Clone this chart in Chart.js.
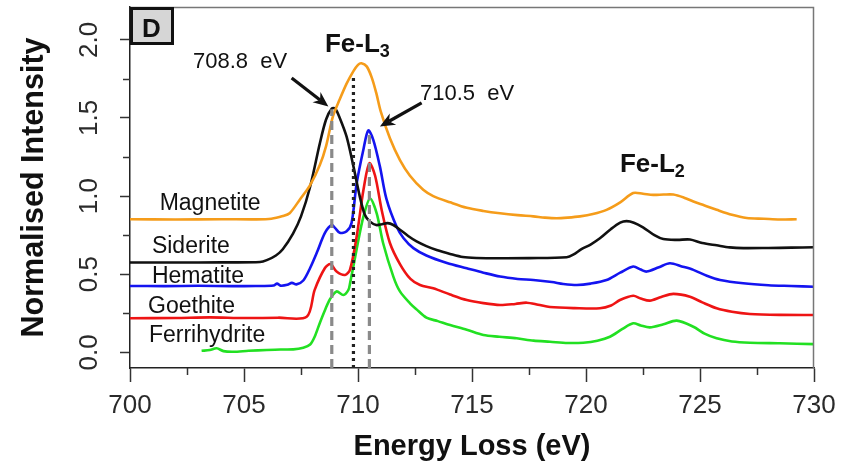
<!DOCTYPE html>
<html>
<head>
<meta charset="utf-8">
<script src="https://cdn.jsdelivr.net/npm/chart.js@4.4.1/dist/chart.umd.min.js"></script>
<style>
html,body{margin:0;padding:0;background:#fff;}
#wrap{width:841px;height:467px;position:relative;}
</style>
</head>
<body>
<div id="wrap"><canvas id="c" width="841" height="467"></canvas></div>
<script>
// ---------- DATA ----------
const seriesNames = ["Magnetite", "Siderite", "Hematite", "Goethite", "Ferrihydrite"];

const magnetiteX = [700,702,704,705.5,706.2,706.7,707.0,707.46,707.9,708.33,708.6,708.9,709.2,709.5,709.8,710.0,710.15,710.38,710.6,710.8,711.0,711.4,711.84,712.28,712.86,713.3,714.04,714.77,715.5,716.23,717.0,717.69,718.2,718.71,719.2,719.74,720.3,720.9,721.5,722.07,722.5,722.95,723.4,723.83,724.3,724.71,725.2,725.73,726.4,727.05,727.8,728.5,729.24];
const magnetiteY = [0.852,0.850,0.852,0.851,0.855,0.872,0.89,0.98,1.07,1.20,1.32,1.51,1.62,1.72,1.80,1.84,1.85,1.83,1.76,1.66,1.54,1.37,1.23,1.13,1.04,1.0,0.96,0.925,0.905,0.89,0.878,0.87,0.862,0.858,0.862,0.87,0.885,0.912,0.96,1.02,1.015,1.008,1.01,1.01,0.99,0.965,0.94,0.912,0.88,0.86,0.855,0.85,0.852];

const sideriteX = [700,702,704,705.7,706.0,706.4,706.7,707.15,707.5,707.9,708.33,708.6,708.85,709.0,709.2,709.5,709.8,710.09,710.3,710.5,710.8,711.05,711.3,711.55,711.84,712.2,712.57,713.0,713.45,714.04,714.6,715.2,716.23,717.5,719.15,719.44,719.8,720.2,720.61,721.1,721.5,721.78,722.1,722.5,723.0,723.39,724.0,724.56,725.1,725.73,726.3,726.9,728.0,729.0,730];
const sideriteY = [0.575,0.575,0.576,0.578,0.59,0.62,0.66,0.76,0.87,1.06,1.34,1.49,1.56,1.56,1.50,1.38,1.19,0.99,0.88,0.84,0.815,0.82,0.827,0.815,0.785,0.745,0.71,0.68,0.655,0.63,0.61,0.604,0.602,0.603,0.609,0.625,0.66,0.69,0.73,0.79,0.83,0.84,0.83,0.80,0.75,0.725,0.72,0.722,0.70,0.685,0.672,0.667,0.668,0.67,0.673];

const hematiteX = [700,701.5,703,704.5,705.5,706.3,706.45,706.6,706.9,707.1,707.3,707.6,707.9,708.2,708.55,708.85,709.0,709.2,709.5,709.72,709.94,710.24,710.45,710.67,710.96,711.25,711.69,712.0,712.43,713.0,713.9,714.77,715.5,716.23,717.0,717.69,718.5,719.0,719.6,720.2,720.9,721.5,722.07,722.4,722.66,723.2,723.68,724.2,724.71,725.3,725.88,726.9,728,729,730];
const hematiteY = [0.425,0.424,0.426,0.424,0.425,0.428,0.44,0.427,0.432,0.445,0.435,0.46,0.54,0.64,0.765,0.815,0.795,0.765,0.775,0.83,1.08,1.30,1.42,1.36,1.19,0.98,0.805,0.73,0.667,0.62,0.572,0.538,0.51,0.485,0.47,0.463,0.45,0.438,0.431,0.44,0.463,0.51,0.549,0.53,0.517,0.545,0.57,0.55,0.528,0.49,0.463,0.442,0.43,0.425,0.42];

const goethiteX = [700,702,703.5,705,706.5,707.75,708.1,708.55,708.8,709.06,709.43,709.65,709.94,710.24,710.5,710.75,711.04,711.4,711.84,712.3,712.72,713.3,714.04,714.77,715.5,716.23,716.9,717.4,717.9,718.42,719.5,720.61,721.1,721.49,722.07,722.4,722.8,723.3,723.83,724.56,725.1,725.73,726.4,727.19,728.5,730];
const goethiteY = [0.218,0.22,0.224,0.22,0.222,0.228,0.40,0.54,0.565,0.517,0.495,0.53,0.74,1.04,1.21,1.13,0.91,0.70,0.565,0.47,0.431,0.41,0.37,0.335,0.315,0.303,0.31,0.318,0.305,0.29,0.283,0.282,0.30,0.335,0.362,0.345,0.331,0.355,0.374,0.356,0.32,0.282,0.26,0.246,0.24,0.239];

const ferrihydriteX = [703.14,703.5,703.8,704.1,704.53,705.2,706.0,706.6,707.16,707.6,707.9,708.1,708.33,708.55,708.77,709.06,709.36,709.58,709.65,709.94,710.24,710.53,710.82,711.1,711.55,711.84,712.28,712.57,713.0,713.5,714.04,714.77,715.5,716.2,716.96,717.7,718.42,719.2,719.88,720.5,721.05,721.6,722.07,722.4,722.8,723.4,723.98,724.71,725.2,725.73,726.4,727.19,728.5,730];
const ferrihydriteY = [0.01,0.015,0.026,0.008,0.004,0.01,0.015,0.018,0.019,0.03,0.05,0.10,0.19,0.27,0.34,0.39,0.367,0.40,0.44,0.66,0.87,0.985,0.89,0.70,0.485,0.39,0.314,0.275,0.222,0.20,0.175,0.145,0.111,0.10,0.09,0.075,0.068,0.06,0.062,0.075,0.10,0.15,0.186,0.172,0.16,0.18,0.203,0.164,0.12,0.09,0.07,0.062,0.058,0.053];

// reference energy markers (eV) and the intensity where each marker stops
const markerEnergies = [708.85, 709.8, 710.5];
const markerTops = [1.555, 1.765, 1.41];

const xTickLabels = [700, 705, 710, 715, 720, 725, 730];
const yTickLabels = [0.0, 0.5, 1.0, 1.5, 2.0];

// ---------- BUILD ----------
function pts(xs, ys){ return xs.map((v,i)=>({x:v, y:ys[i]})); }
const isLabelX = v => xTickLabels.some(t => Math.abs(t - v) < 1e-6);
const isLabelY = v => yTickLabels.some(t => Math.abs(t - v) < 1e-6);
const curveColors = ['#f59c1a', '#111111', '#1414f0', '#ee1414', '#22e022'];
const curves = [
  [magnetiteX, magnetiteY],
  [sideriteX, sideriteY],
  [hematiteX, hematiteY],
  [goethiteX, goethiteY],
  [ferrihydriteX, ferrihydriteY]
];

const datasets = [];
markerEnergies.forEach((e,i)=>{
  datasets.push({
    label: 'marker '+e,
    data: [{x:e, y:-0.1}, {x:e, y:markerTops[i]}],
    borderColor: i===1 ? '#222222' : '#8a8a8a',
    borderWidth: 3.2,
    borderDash: i===1 ? [3,4] : [9,5],
    pointRadius: 0,
    tension: 0
  });
});
curves.forEach((c,i)=>{
  datasets.push({
    label: seriesNames[i],
    data: pts(c[0], c[1]),
    borderColor: curveColors[i],
    borderWidth: 2.6,
    pointRadius: 0,
    tension: 0.3,
    fill: false
  });
});

const FONT = "'Liberation Sans', Arial, sans-serif";
Chart.defaults.font.family = FONT;
Chart.defaults.color = '#222';

const annotPlugin = {
  id: 'annot',
  afterDatasetsDraw(chart){
    const {ctx, chartArea: ca} = chart;
    const xs = chart.scales.x, ys = chart.scales.y;
    const px = v => xs.getPixelForValue(v), py = v => ys.getPixelForValue(v);
    ctx.save();
    // frame top/right
    ctx.strokeStyle = '#777'; ctx.lineWidth = 1.5;
    ctx.beginPath(); ctx.moveTo(ca.left, ca.top+0.5); ctx.lineTo(ca.right-0.5, ca.top+0.5); ctx.lineTo(ca.right-0.5, ca.bottom); ctx.stroke();

    // minor tick marks (shorter than the major ones)
    ctx.strokeStyle = '#333'; ctx.lineWidth = 1.5;
    xs.ticks.forEach(t => { if (!isLabelX(t.value)) { const p = Math.round(px(t.value)) + 0.5; ctx.beginPath(); ctx.moveTo(p, ca.bottom); ctx.lineTo(p, ca.bottom + 7); ctx.stroke(); } });
    ys.ticks.forEach(t => { if (!isLabelY(t.value)) { const p = Math.round(py(t.value)) + 0.5; ctx.beginPath(); ctx.moveTo(ca.left, p); ctx.lineTo(ca.left - 7, p); ctx.stroke(); } });

    // panel letter box
    ctx.fillStyle = '#d6d6d6'; ctx.fillRect(ca.left+1, ca.top+1, 42, 36);
    ctx.strokeStyle = '#111'; ctx.lineWidth = 3; ctx.strokeRect(ca.left+1.5, ca.top+1.5, 41, 35);
    ctx.fillStyle = '#111'; ctx.font = 'bold 26px ' + FONT; ctx.textAlign = 'center'; ctx.textBaseline = 'alphabetic';
    ctx.fillText('D', ca.left+21.5, ca.top+30);

    // series labels
    const labelPos = [[701.3,0.912],[700.96,0.637],[700.96,0.445],[700.79,0.252],[700.83,0.066]];
    ctx.font = '23px ' + FONT; ctx.textAlign = 'left'; ctx.fillStyle = '#111';
    seriesNames.forEach((n,i)=> ctx.fillText(n, px(labelPos[i][0]), py(labelPos[i][1])));

    // energy annotations
    ctx.font = '22px ' + FONT;
    ctx.fillText('708.8  eV', px(702.76), py(1.82));
    ctx.fillText('710.5  eV', px(712.72), py(1.617));

    // edge labels
    function edge(main, sub, xv, yv){
      const x0 = px(xv), y0 = py(yv);
      ctx.font = 'bold 26px ' + FONT; ctx.textAlign='left';
      ctx.fillText(main, x0, y0);
      const w = ctx.measureText(main).width;
      ctx.font = 'bold 18px ' + FONT;
      ctx.fillText(sub, x0 + w, y0 + 5);
    }
    edge('Fe-L', '3', 708.55, 1.919);
    edge('Fe-L', '2', 721.49, 1.156);

    // arrows
    function arrow(x1,y1,x2,y2){
      const a = Math.atan2(y2-y1, x2-x1), L = 15, W = 6.5;
      ctx.strokeStyle = '#111'; ctx.fillStyle = '#111'; ctx.lineWidth = 3.2; ctx.lineCap = 'butt';
      ctx.beginPath(); ctx.moveTo(x1,y1); ctx.lineTo(x2 - L*0.7*Math.cos(a), y2 - L*0.7*Math.sin(a)); ctx.stroke();
      ctx.beginPath(); ctx.moveTo(x2,y2);
      ctx.lineTo(x2 - L*Math.cos(a) + W*Math.sin(a), y2 - L*Math.sin(a) - W*Math.cos(a));
      ctx.lineTo(x2 - L*0.7*Math.cos(a), y2 - L*0.7*Math.sin(a));
      ctx.lineTo(x2 - L*Math.cos(a) - W*Math.sin(a), y2 - L*Math.sin(a) + W*Math.cos(a));
      ctx.closePath(); ctx.fill();
    }
    arrow(px(707.09), py(1.756), px(708.7), py(1.574));
    arrow(px(712.79), py(1.596), px(710.96), py(1.446));
    ctx.restore();
  }
};

new Chart(document.getElementById('c'), {
  type: 'line',
  data: { datasets },
  plugins: [annotPlugin],
  options: {
    responsive: false,
    animation: false,
    devicePixelRatio: 1,
    layout: { padding: { top: 7, right: 27, bottom: 0, left: 0 } },
    plugins: { legend: { display: false }, tooltip: { enabled: false } },
    scales: {
      x: {
        type: 'linear', min: 700, max: 730,
        afterFit: s => { s.height = 99; s.paddingLeft = 0; s.paddingRight = 0; },
        grid: { drawOnChartArea: false, tickLength: 14, tickWidth: 1.5,
                tickColor: c => isLabelX(c.tick.value) ? '#333' : 'rgba(0,0,0,0)' },
        border: { color: '#222', width: 1.5 },
        ticks: {
          stepSize: 2.5, includeBounds: false, autoSkip: false, maxRotation: 0,
          font: { size: 26 }, color: '#2a2a2a', padding: 8,
          callback: v => isLabelX(v) ? String(v) : ''
        },
        title: { display: true, text: 'Energy Loss (eV)', font: { size: 29, weight: 'bold' }, color: '#111', padding: { top: 0, bottom: 2.4 } }
      },
      y: {
        type: 'linear', min: -0.1, max: 2.21,
        afterFit: s => { s.width = 130; s.paddingTop = 0; s.paddingBottom = 0; },
        grid: { drawOnChartArea: false, tickLength: 10, tickWidth: 1.5,
                tickColor: c => isLabelY(c.tick.value) ? '#333' : 'rgba(0,0,0,0)' },
        border: { color: '#222', width: 1.5 },
        ticks: {
          stepSize: 0.25, includeBounds: false, autoSkip: false,
          minRotation: 90, maxRotation: 90, crossAlign: 'center',
          font: { size: 26 }, color: '#2a2a2a', padding: 12,
          callback: v => { const hit = yTickLabels.find(t => Math.abs(t - v) < 1e-6); return hit === undefined ? '' : hit.toFixed(1); }
        },
        title: { display: true, text: 'Normalised Intensity', font: { size: 30.5, weight: 'bold' }, color: '#111', padding: { top: 16.5, bottom: 0 } }
      }
    }
  }
});
</script>
</body>
</html>
